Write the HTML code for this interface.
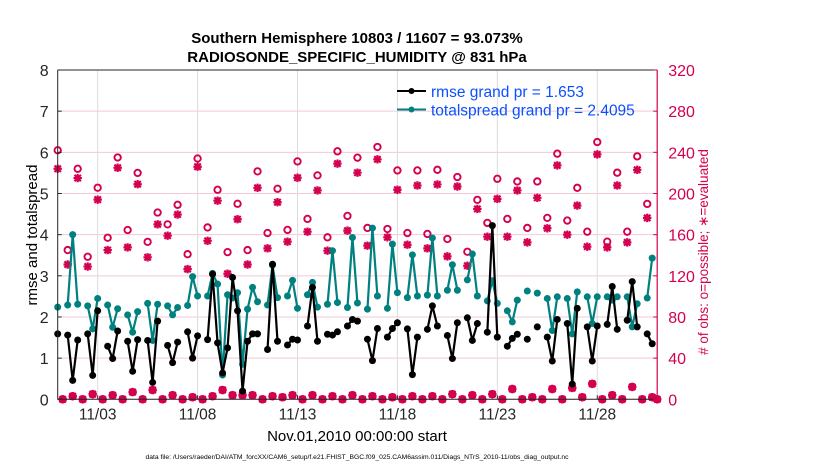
<!DOCTYPE html>
<html><head><meta charset="utf-8"><style>
html,body{margin:0;padding:0;background:#fff;}
svg{display:block;font-family:"Liberation Sans",Arial,sans-serif;}
</style></head><body>
<svg id="chart" width="830" height="470" viewBox="0 0 830 470" xmlns="http://www.w3.org/2000/svg">
<rect x="0" y="0" width="830" height="470" fill="#fff"/>
<text x="357" y="43" text-anchor="middle" font-size="15" font-weight="bold">Southern Hemisphere 10803 / 11607 = 93.073%</text>
<text x="357" y="62" text-anchor="middle" font-size="15" font-weight="bold">RADIOSONDE_SPECIFIC_HUMIDITY @ 831 hPa</text>
<g id="grid"></g>
<g id="marks"></g>
<g id="axes"></g>
<text x="0" y="0" transform="translate(37,235) rotate(-90)" text-anchor="middle" font-size="15">rmse and totalspread</text>
<text x="0" y="0" transform="translate(708,252) rotate(-90)" text-anchor="middle" font-size="13.5" fill="#d4004f"># of obs: o=possible; ∗=evaluated</text>
<text x="357" y="441" text-anchor="middle" font-size="15">Nov.01,2010 00:00:00 start</text>
<text x="357" y="459" text-anchor="middle" font-size="6.75">data file: /Users/raeder/DAI/ATM_forcXX/CAM6_setup/f.e21.FHIST_BGC.f09_025.CAM6assim.011/Diags_NTrS_2010-11/obs_diag_output.nc</text>
<g>
<line x1="397" y1="91" x2="426" y2="91" stroke="#000" stroke-width="2"/>
<circle cx="411.5" cy="91" r="3" fill="#000"/>
<text x="431" y="97" font-size="15.5" fill="#0a50ff">rmse grand pr = 1.653</text>
<line x1="397" y1="109.5" x2="426" y2="109.5" stroke="#00807f" stroke-width="2"/>
<circle cx="411.5" cy="109.5" r="3" fill="#00807f"/>
<text x="431" y="115.5" font-size="15.5" fill="#0a50ff">totalspread grand pr = 2.4095</text>
</g>
</svg>
<script>
const rmse=[1.59,null,1.56,0.46,1.44,null,1.59,0.58,2.15,null,1.29,0.99,1.66,null,1.41,0.68,1.45,null,1.43,0.41,1.90,null,1.31,0.89,1.39,null,1.64,1.0,1.54,null,1.45,3.04,1.37,0.64,1.25,2.96,2.15,0.2,1.41,1.59,1.59,null,1.21,3.28,1.41,null,1.32,1.46,1.44,null,1.78,2.72,1.41,null,1.58,1.56,1.64,null,1.78,1.94,1.90,null,1.46,0.94,1.72,null,1.51,1.72,1.86,null,1.71,0.60,1.51,null,1.70,2.27,1.78,null,1.55,0.99,1.86,null,1.98,1.43,1.84,null,1.63,4.22,1.51,null,1.29,1.48,1.58,null,1.46,null,1.76,null,1.51,0.93,1.94,null,1.84,0.37,2.21,null,1.76,0.93,1.78,null,1.82,2.74,1.70,null,1.92,2.86,1.76,null,1.59,1.35,null];
const spread=[2.24,null,2.29,4.0,2.31,null,2.27,1.71,2.45,null,2.29,1.75,2.2,null,2.05,1.63,2.13,null,2.33,1.43,2.31,null,2.27,2.05,2.23,null,2.28,2.98,2.51,null,2.51,3.06,2.80,0.59,2.54,2.46,2.59,0.85,2.19,2.72,2.37,null,2.29,3.26,2.47,null,2.51,2.89,2.21,null,2.54,2.84,2.24,null,2.31,3.61,2.35,null,2.23,3.93,2.34,null,2.19,4.16,2.51,null,2.21,3.77,2.59,null,2.47,3.51,2.51,null,2.53,3.92,2.51,null,2.65,3.27,2.65,null,2.90,3.53,2.51,null,2.39,2.88,2.33,null,2.15,1.88,2.41,null,2.63,null,2.58,null,2.45,1.67,2.49,null,2.45,1.59,2.61,null,2.49,1.84,2.49,null,2.49,2.41,2.49,null,2.49,1.76,2.32,null,2.46,3.43,null];
const possible=[242,0,145,3,224,0,138.5,5,205.6,0,157,4,235,0,164.5,7,220,0,153,9,181.5,0,170,4,189,0,141,2,234,0,167,3,203.6,9,143,4,190,4,145,4,221.5,0,161.6,3,204.6,2,164.6,4,231.2,0,175.3,4,217.6,0,157.4,3,241,0,178.2,4,234.8,0,166.5,3,245.2,0,165.5,2,222.4,0,161.6,3,222.4,0,160.7,3,223,0,155.8,5,216,0,143.4,4,193.8,0,171.4,5,214.3,0,175.3,10,211.7,0,166.5,2,211.7,0,176.3,10,238.7,0,173.7,11,205.5,2,162.9,15,250,0,153.2,4,220.2,0,162.9,12,236.1,0,189.9,2,0];
const evaluated=[224,0,131,3,215,0,129,5,194,0,145,4,225,0,147.6,7,209,0,138,9,170,0,159,4,179.5,0,126.5,2,226,0,154,3,193,9,122,4,175,4,131,4,205.5,0,146.7,3,191.5,2,153.2,4,215.3,0,162.9,4,203,0,144.4,3,229,0,163.9,4,220.2,0,149.3,3,233.2,0,157.4,2,203.6,0,150.2,3,207.8,0,146.7,3,208.8,0,138.9,5,206.8,0,129.8,4,185,0,158,5,194.8,0,158,10,203,0,152.5,2,195.8,0,166.2,10,227.3,0,160,11,188.3,2,148.3,15,238,0,147.6,4,207.8,0,152.5,12,223,0,176.3,2,0];
const xTickDays=[2,7,12,17,22,27];
const xTickLabels=["11/03","11/08","11/13","11/18","11/23","11/28"];
const yTicks=[0,1,2,3,4,5,6,7,8];
const y2Ticks=[0,40,80,120,160,200,240,280,320];

const NS="http://www.w3.org/2000/svg";
const L=57.7,R=657.2,T=70,B=399.3;
const DMAX=30;
const MAG="#d4004f",TEAL="#00807f";
function xs(d){return L+(R-L)*d/DMAX;}
function ys(v){return B-(B-T)*v/8;}
function ys2(v){return B-(B-T)*v/320;}
function dayOf(i){return i*0.25;}
function mk(tag,attrs,parent){const e=document.createElementNS(NS,tag);for(const k in attrs)e.setAttribute(k,attrs[k]);parent.appendChild(e);return e;}
const grid=document.getElementById('grid'),marks=document.getElementById('marks'),axes=document.getElementById('axes');

y2Ticks.forEach(t=>{const y=ys2(t);
 const g=mk('line',{x1:L,x2:R,y1:y,y2:y,stroke:'#f3c9d8','stroke-width':1},grid);
 
 
});
xTickDays.forEach(d=>{const x=xs(d);
 const g=mk('line',{x1:x,x2:x,y1:T,y2:B,stroke:'#dcdcdc','stroke-width':1},grid);
 
 
});

possible.forEach((v,i)=>{const x=xs(dayOf(i)),y=ys2(v);
 const c=mk('circle',{cx:x,cy:y,r:3.2,fill:'none',stroke:MAG,'stroke-width':1.9},marks);
 
 
});
evaluated.forEach((v,i)=>{const x=xs(dayOf(i)),y=ys2(v),s=4.2,s2=3.2;
 const p=mk('path',{d:`M${x-s} ${y}H${x+s}M${x} ${y-s}V${y+s}M${x-s2} ${y-s2}L${x+s2} ${y+s2}M${x-s2} ${y+s2}L${x+s2} ${y-s2}`,stroke:MAG,'stroke-width':2.2,fill:'none'},marks);
 
 
});

function series(arr,color,name){
 let seg=[];const segs=[];
 arr.forEach((v,i)=>{if(v===null){if(seg.length)segs.push(seg);seg=[];}else seg.push([xs(dayOf(i)),ys(v)]);});
 if(seg.length)segs.push(seg);
 segs.forEach(sg=>{if(sg.length>1){
  const pl=mk('polyline',{points:sg.map(p=>p.join(',')).join(' '),fill:'none',stroke:color,'stroke-width':2.2,'stroke-linejoin':'round'},marks);
  
  
 }});
 arr.forEach((v,i)=>{if(v===null)return;
  const c=mk('circle',{cx:xs(dayOf(i)),cy:ys(v),r:3.5,fill:color},marks);
  
  
 });
}
series(spread,TEAL,'totalspread');
series(rmse,'#000','rmse');

const ax=mk('path',{d:`M${L} ${T}V${B}H${R}M${L} ${T}H${R}`,stroke:'#262626','stroke-width':1,fill:'none'},axes);


const ax2=mk('line',{x1:R,x2:R,y1:T,y2:B,stroke:MAG,'stroke-width':1.2},axes);


yTicks.forEach(t=>{const y=ys(t);
 const tk=mk('line',{x1:L,x2:L+4,y1:y,y2:y,stroke:'#262626'},axes);
 
 
 const tx=mk('text',{x:L-9,y:y+6,'text-anchor':'end','font-size':16,fill:'#262626'},axes);
 tx.textContent=t;
 
 
});
y2Ticks.forEach(t=>{const y=ys2(t);
 const tk=mk('line',{x1:R-4,x2:R,y1:y,y2:y,stroke:MAG},axes);
 
 
 const tx=mk('text',{x:R+11,y:y+6,'text-anchor':'start','font-size':16,fill:MAG},axes);
 tx.textContent=t;
 
 
});
xTickDays.forEach((d,k)=>{const x=xs(d);
 const tk=mk('line',{x1:x,x2:x,y1:B,y2:B-4,stroke:'#262626'},axes);
 
 
 const tx=mk('text',{x:x,y:B+20,'text-anchor':'middle','font-size':15.5,fill:'#262626'},axes);
 tx.textContent=xTickLabels[k];
 
 
});
</script>
</body></html>
